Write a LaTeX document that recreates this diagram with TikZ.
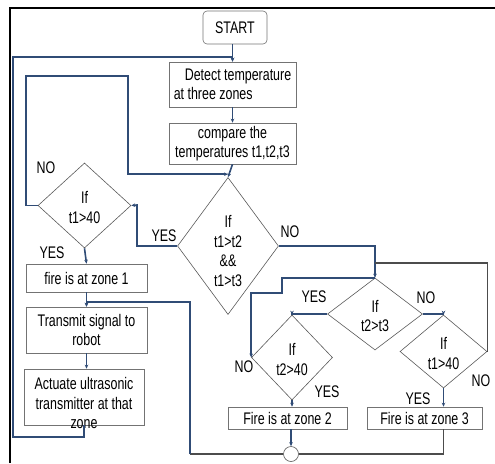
\documentclass[tikz,border=0pt]{standalone}
\usepackage{fontspec}
\setmainfont{Liberation Sans}[FakeStretch=0.74]
\usetikzlibrary{shapes.geometric,arrows.meta}

\begin{document}
\begin{tikzpicture}[x=1pt,y=-1pt,>={Stealth[length=4pt,width=3.5pt]},
    every node/.style={font=\fontsize{16.8}{19.5}\selectfont},
    box/.style={draw=black!55,line width=0.6pt,inner sep=0pt,align=center},
    decision/.style={diamond,draw=black!65,line width=0.6pt,inner sep=0pt},
    flow/.style={draw={rgb,255:red,48;green,76;blue,118},line width=1.6pt},
    flowg/.style={draw=black!70,line width=1.3pt},
    tag/.style={inner sep=0pt}]
    \useasboundingbox (0,0) rectangle (495,463);
    \draw [line width=2pt] (10,463) -- (10,8) -- (495,8);

    \node [box,rounded corners=4pt,minimum width=64pt,minimum height=33pt] (start) at (235,27.5) {START};
    \node [box,align=left,minimum width=127pt,minimum height=45pt] (detect) at (232.5,84.5) {\hspace*{11pt}Detect temperature\\at three zones};
    \node [box,minimum width=127pt,minimum height=41pt] (compare) at (232.5,143.5) {compare the\\temperatures t1,t2,t3};
    \node [decision,minimum width=101pt,minimum height=137pt,
      label={[align=center,yshift=-5pt]center:{If\\t1>t2\\\&\&\\t1>t3}}] (cmpall) at (228,246) {};
    \node [decision,minimum width=93pt,minimum height=85pt,
      label={[align=center,yshift=-2pt]center:{If\\t1>40}}] (chkone) at (84.5,205.5) {};
    \node [decision,minimum width=95pt,minimum height=72pt,
      label={[align=center,yshift=-2pt]center:{If\\t2>t3}}] (cmptwo) at (375,314) {};
    \node [decision,minimum width=81pt,minimum height=85pt,
      label={[align=center,yshift=-2pt]center:{If\\t2>40}}] (chktwo) at (292,357.5) {};
    \node [decision,minimum width=87pt,minimum height=73pt,
      label={[align=center,yshift=-2pt]center:{If\\t1>40}}] (chkthree) at (443.5,351.5) {};

    \node [box,minimum width=121pt,minimum height=28pt] (zoneone) at (86.5,278) {fire is at zone 1};
    \node [box,minimum width=121pt,minimum height=46pt] (transmit) at (86.5,330) {Transmit signal to\\robot};
    \node [box,minimum width=120pt,minimum height=56pt,
      label={[align=center,yshift=-6pt]center:{Actuate ultrasonic\\transmitter at that\\zone}}] (actuate) at (84,397) {};
    \node [box,minimum width=119pt,minimum height=22pt] (zonetwo) at (287.5,418) {Fire is at zone 2};
    \node [box,minimum width=115pt,minimum height=22pt] (zonethree) at (424.5,418) {Fire is at zone 3};
    \node [circle,draw=black!65,line width=0.6pt,minimum size=15pt,inner sep=0pt] (merge) at (291,454) {};

    % yes / no tags
    \node [tag] (noone) at (46,168) {NO};
    \node [tag] (yesone) at (52,253) {YES};
    \node [tag] (yesall) at (164,236) {YES};
    \node [tag] (noall) at (290,232) {NO};
    \node [tag] (yesttt) at (314,297) {YES};
    \node [tag] (nottt) at (426,298) {NO};
    \node [tag] (notwo) at (244,367) {NO};
    \node [tag] (yestwo) at (327,392) {YES};
    \node [tag] (yesthree) at (418,399) {YES};
    \node [tag] (nothree) at (481,381) {NO};

    \coordinate (loopleft) at (13,57);
    \coordinate (split) at (375,263);

    \draw [flow,->] (start.south -| detect.north) -- (detect.north);
    \draw [flow,->] (actuate.south) |- (13,437) -- (loopleft) -| (detect.north);
    \draw [flow,->] (detect.south) -- (compare.north);
    \draw [flow,->] (compare.south) -- (cmpall.north);
    \draw [flow,->] (chkone.west) -- ++(-12,0) |- (128,76) |- ([yshift=3pt]cmpall.north);
    \draw [flow,->] (cmpall.west) -| (137,205) -- (chkone.east);
    \draw [flow,->] (chkone.south) -- (zoneone.north);
    \draw [flow,->] (zoneone.south) -- (zoneone.south |- transmit.north);
    \draw [flow,->] (transmit.south) -- (transmit.south |- actuate.north);

    \draw [flow,->] (cmpall.east) -| (cmptwo.north);
    \draw [flowg] (chkthree.east) |- (split);
    \draw [flow,->] (cmptwo.north) -| (282,293) -| (chktwo.west);
    \draw [flow,->] (cmptwo.west) -| (chktwo.north);
    \draw [flow,->] (cmptwo.east) -| (chkthree.north);
    \draw [flow,->] (chktwo.south) -- (chktwo.south |- zonetwo.north);
    \draw [flow,->] (chkthree.south) -- (chkthree.south |- zonethree.north);
    \draw [flow,->] (zonetwo.south -| merge.north) -- (merge.north);
    \draw [flowg] (zonethree.south -| chkthree.south) |- (merge.east);
    \draw [flowg] (merge.west) -- (190,454);
    \draw [flow,->] (190,454) |- (128,302) -| (transmit.north);
\end{tikzpicture}
\end{document}
